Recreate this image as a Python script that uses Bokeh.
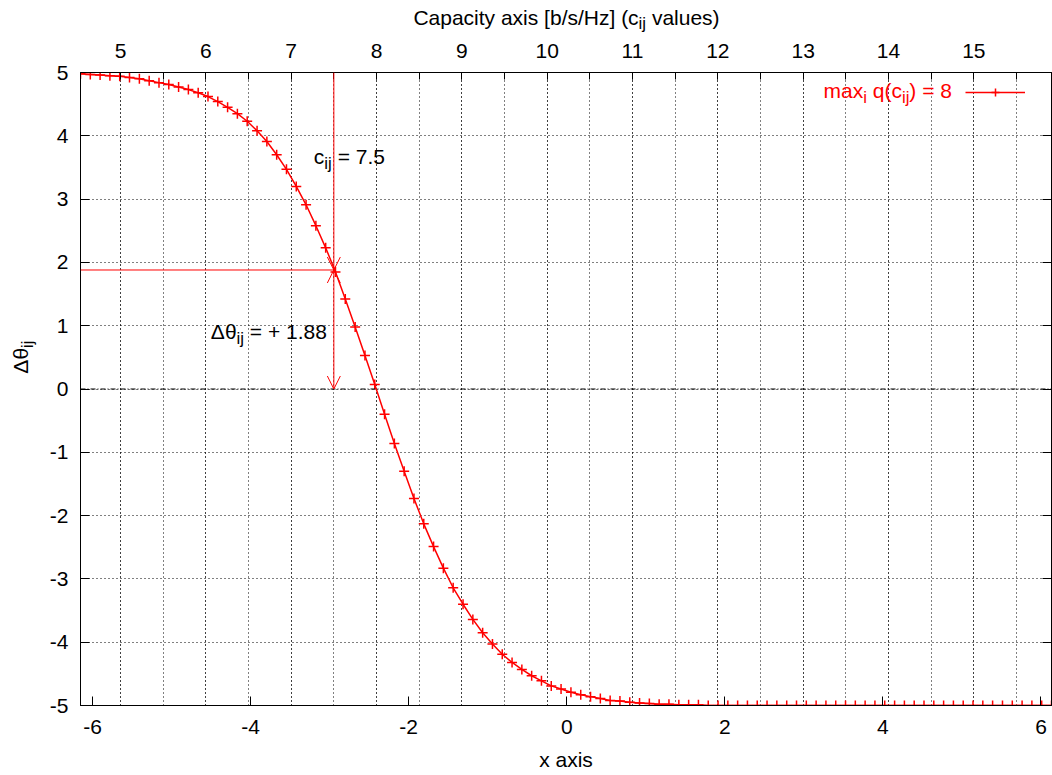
import math
from bokeh.plotting import figure
from bokeh.layouts import column, row
from bokeh.models import (Range1d, LinearAxis, SingleIntervalTicker, Grid, Span, Arrow,
                          OpenHead, Label, Legend, LegendItem, CustomJSTickFormatter)
from bokeh.embed import file_html
from bokeh.resources import INLINE

# ---------------- data ----------------
X_MIN, X_MAX = -6.152, 6.133          # bottom "x axis" range
C_MIN, C_MAX = 4.531, 15.91           # top capacity axis range (c_ij values)
Y_MIN, Y_MAX = -5.0, 5.0

x_samples = [
    -6.152, -6.028, -5.904, -5.780, -5.656, -5.532, -5.407, -5.283, -5.159, -5.035,
    -4.911, -4.787, -4.663, -4.539, -4.415, -4.291, -4.167, -4.043, -3.918, -3.794,
    -3.670, -3.546, -3.422, -3.298, -3.174, -3.050, -2.926, -2.802, -2.677, -2.553,
    -2.429, -2.305, -2.181, -2.057, -1.933, -1.809, -1.685, -1.561, -1.437, -1.312,
    -1.188, -1.064, -0.940, -0.816, -0.692, -0.568, -0.444, -0.320, -0.196, -0.072,
    0.053, 0.177, 0.301, 0.425, 0.549, 0.673, 0.797, 0.921, 1.045, 1.169,
    1.293, 1.418, 1.542, 1.666, 1.790, 1.914, 2.038, 2.162, 2.286, 2.410,
    2.534, 2.658, 2.783, 2.907, 3.031, 3.155, 3.279, 3.403, 3.527, 3.651,
    3.775, 3.899, 4.023, 4.148, 4.272, 4.396, 4.520, 4.644, 4.768, 4.892,
    5.016, 5.140, 5.264, 5.388, 5.513, 5.637, 5.761, 5.885, 6.009, 6.133,
]
dtheta = [
    4.98, 4.97, 4.96, 4.95, 4.94, 4.92, 4.90, 4.87, 4.84, 4.81,
    4.77, 4.73, 4.68, 4.62, 4.54, 4.45, 4.35, 4.23, 4.08, 3.91,
    3.70, 3.47, 3.20, 2.91, 2.58, 2.23, 1.85, 1.42, 0.98, 0.53,
    0.07, -0.40, -0.86, -1.30, -1.73, -2.13, -2.49, -2.83, -3.14, -3.40,
    -3.64, -3.85, -4.03, -4.19, -4.32, -4.43, -4.53, -4.61, -4.69, -4.74,
    -4.79, -4.83, -4.86, -4.89, -4.92, -4.93, -4.95, -4.96, -4.97, -4.98,
    -4.98, -4.99, -4.99, -4.99, -5.00, -5.00, -5.00, -5.00, -5.00, -5.00,
    -5.00, -5.00, -5.00, -5.00, -5.00, -5.00, -5.00, -5.00, -5.00, -5.00,
    -5.00, -5.00, -5.00, -5.00, -5.00, -5.00, -5.00, -5.00, -5.00, -5.00,
    -5.00, -5.00, -5.00, -5.00, -5.00, -5.00, -5.00, -5.00, -5.00, -5.00,
]
C_MARK = 7.5          # marked capacity value
DTHETA_MARK = 1.88    # marked delta theta
Q_MAX = 8

FONT = "Liberation Sans"
FS = 21               # main text size (px)
SFS = 16.8            # subscript size (px)
RED = "#ff0000"
INT_FMT = "return Math.round(tick).toString()"
EMPTY_FMT = "return ''"

# ---------------- rich text helper ----------------
AW = {' ': 278, '(': 333, ')': 333, '[': 278, ']': 278, '/': 278, '=': 584, '+': 584, '.': 278,
      'C': 722, 'H': 722, 'a': 556, 'b': 556, 'c': 500, 'e': 556, 'i': 222, 'j': 222, 'l': 222,
      'm': 833, 'p': 556, 'q': 556, 's': 500, 't': 278, 'u': 556, 'v': 500, 'x': 500, 'y': 500,
      'z': 500, 'Δ': 668, 'θ': 556}
MID = 0.3465          # em-box centre above the baseline, in em

def tw(s, size):
    return sum(AW.get(ch, 556) for ch in s) * size / 1000.0

def run_width(parts):
    return sum(tw(t, SFS if s else FS) for t, s in parts)

def rich(fig, parts, x, y, start, base, color="black", rng="default", vertical=False, sub_drop=6):
    """Horizontal: start = px right of anchor where the run begins, base = px below anchor of the baseline.
       Vertical (reads upward): start = px above anchor where the run begins, base = px right of anchor of the baseline."""
    off = 0.0
    for txt, sub in parts:
        fs = SFS if sub else FS
        drop = sub_drop if sub else 0
        stripped = txt.lstrip(" ")
        off += tw(txt[:len(txt) - len(stripped)], fs)
        w = tw(stripped, fs)
        if not vertical:
            xo = start + off + w / 2
            yo = -(base + drop - MID * fs)
            ang = 0.0
        else:
            xo = base + drop - MID * fs
            yo = start + off + w / 2
            ang = math.pi / 2
        fig.add_layout(Label(x=x, y=y, x_range_name=rng, text=stripped, x_offset=xo, y_offset=yo,
                             angle=ang, text_font=FONT, text_font_size=f"{fs}px",
                             text_color=color, text_baseline="middle", text_align="center"))
        off += w

def style_axis(ax, tick_in=9):
    ax.major_tick_in = tick_in
    ax.major_tick_out = 0
    ax.minor_tick_in = 0
    ax.minor_tick_out = 0
    ax.axis_line_color = "black"
    ax.major_tick_line_color = "black"
    ax.major_label_text_font = FONT
    ax.major_label_text_font_size = f"{FS}px"
    ax.major_label_text_color = "black"

def blank_strip(w, h):
    f = figure(width=w, height=h, x_range=Range1d(0, w), y_range=Range1d(h, 0),
               x_axis_type=None, y_axis_type=None, output_backend="svg", toolbar_location=None,
               min_border_left=0, min_border_right=0, min_border_top=0, min_border_bottom=0,
               outline_line_color=None, background_fill_color="white", border_fill_color="white")
    f.xgrid.visible = False
    f.ygrid.visible = False
    return f

TOP_H = 33
LEFT_W = 42

# ---------------- top strip: capacity axis title ----------------
ts = blank_strip(1052, TOP_H)
title_parts = [("Capacity axis [b/s/Hz] (c", False), ("ij", True), (" values)", False)]
rich(ts, title_parts, 566, 24, -run_width(title_parts) / 2, 0, sub_drop=5)

# ---------------- left strip: y axis title ----------------
ls = blank_strip(LEFT_W, 775 - TOP_H)
rich(ls, [("Δθ", False), ("ij", True)], 27, 386 - TOP_H, 0, 0, vertical=True)

# ---------------- main plot ----------------
p = figure(width=1052 - LEFT_W, height=775 - TOP_H,
           x_range=Range1d(X_MIN, X_MAX), y_range=Range1d(Y_MIN, Y_MAX),
           output_backend="svg", toolbar_location=None,
           min_border_left=80 - LEFT_W, min_border_right=1, min_border_top=72 - TOP_H, min_border_bottom=70,
           background_fill_color="white", border_fill_color="white",
           outline_line_color="black", outline_line_width=1)
p.extra_x_ranges = {"c": Range1d(C_MIN, C_MAX)}

xa = p.xaxis[0]
xa.ticker = SingleIntervalTicker(interval=2, num_minor_ticks=0)
xa.formatter = CustomJSTickFormatter(code=INT_FMT)
style_axis(xa)
xa.major_label_standoff = 14
xa.axis_label = "x axis"
xa.axis_label_text_font = FONT
xa.axis_label_text_font_size = f"{FS}px"
xa.axis_label_text_font_style = "normal"
xa.axis_label_text_color = "black"
xa.axis_label_standoff = 11

ya = p.yaxis[0]
ya.ticker = SingleIntervalTicker(interval=1, num_minor_ticks=0)
ya.formatter = CustomJSTickFormatter(code=INT_FMT)
style_axis(ya)
ya.major_label_standoff = 12

ra = LinearAxis(ticker=SingleIntervalTicker(interval=1, num_minor_ticks=0),
                formatter=CustomJSTickFormatter(code=EMPTY_FMT))
style_axis(ra)
ra.major_label_text_font_size = "0px"
ra.major_label_standoff = 0
p.add_layout(ra, "right")

top_ticker = SingleIntervalTicker(interval=1, num_minor_ticks=2)
ta = LinearAxis(x_range_name="c", ticker=top_ticker, formatter=CustomJSTickFormatter(code=INT_FMT))
style_axis(ta, tick_in=7)
ta.minor_tick_in = 7
ta.minor_tick_line_color = "black"
ta.major_label_standoff = 15
p.add_layout(ta, "above")

p.xgrid.visible = False
p.ygrid.grid_line_color = "black"
p.ygrid.grid_line_dash = "1 3"
p.ygrid.grid_line_width = 1
vgrid = Grid(dimension=0, ticker=top_ticker, x_range_name="c",
             grid_line_color="black", grid_line_dash="1 3", grid_line_width=1,
             minor_grid_line_color="black", minor_grid_line_dash="1 3", minor_grid_line_width=1)
p.add_layout(vgrid)

p.add_layout(Span(location=0, dimension="width", line_color="black", line_width=1.2,
                  line_dash="5 2 1 2"))

line_r = p.line(x_samples, dtheta, line_color=RED, line_width=1.5)
sc_r = p.scatter(x_samples, dtheta, marker="cross", size=10, line_color=RED, line_width=1.5)

HEAD = 13
p.add_layout(Arrow(x_start=C_MARK, y_start=Y_MAX, x_end=C_MARK, y_end=DTHETA_MARK, x_range_name="c",
                   line_color=RED, line_width=1,
                   end=OpenHead(size=HEAD, line_color=RED, line_width=1)))
p.add_layout(Arrow(x_start=C_MARK, y_start=DTHETA_MARK, x_end=C_MARK, y_end=0, x_range_name="c",
                   line_color=RED, line_width=1,
                   start=OpenHead(size=HEAD, line_color=RED, line_width=1),
                   end=OpenHead(size=HEAD, line_color=RED, line_width=1)))
p.add_layout(Arrow(x_start=C_MIN, y_start=DTHETA_MARK, x_end=C_MARK, y_end=DTHETA_MARK, x_range_name="c",
                   line_color=RED, line_width=1, end=None))

rich(p, [("c", False), ("ij", True), (f" = {C_MARK}", False)], C_MARK, Y_MAX, -20, 91, rng="c")
rich(p, [("Δθ", False), ("ij", True), (f" = + {DTHETA_MARK}", False)], C_MARK, 0, -123, -50.5, rng="c")

leg_parts = [("max", False), ("i", True), (" q(c", False), ("ij", True), (f") = {Q_MAX}", False)]
rich(p, leg_parts, X_MAX, Y_MAX, -228, 25, color=RED)

legend = Legend(items=[LegendItem(label=" ", renderers=[line_r, sc_r])],
                location=(885, 603), glyph_width=60, glyph_height=20,
                label_width=0, label_standoff=0, label_text_font_size="1px",
                padding=0, margin=0, spacing=0,
                border_line_alpha=0, background_fill_alpha=0)
p.add_layout(legend)

layout = column(ts, row(ls, p, spacing=0), spacing=0)
open("out.html", "w").write(file_html(layout, INLINE))
